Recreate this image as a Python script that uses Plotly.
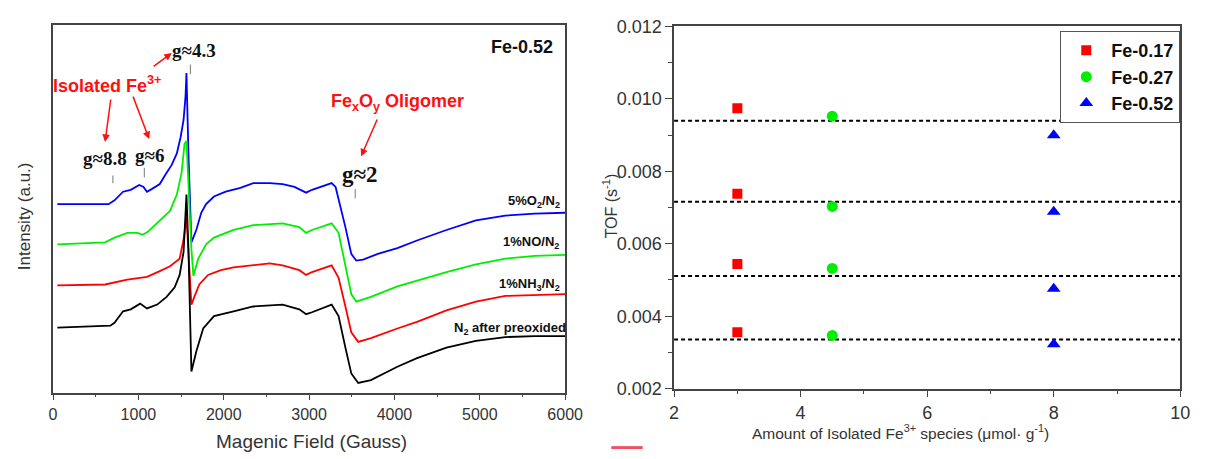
import plotly.graph_objects as go

W, H = 1213, 459

# ---------------- EPR spectra (left panel) ----------------
blue_field = [50, 360, 650, 720, 820, 910, 1010, 1060, 1100, 1160, 1250, 1310, 1390, 1450, 1494, 1529, 1552, 1563,
              1586, 1621, 1678, 1736, 1793, 1885, 2023, 2195, 2345, 2540, 2690, 2828, 2965, 3034, 3172, 3264, 3310,
              3368, 3425, 3494, 3552, 3632, 3805, 4034, 4264, 4609, 4954, 5299, 5644, 6000]
blue_int = [197, 197, 197, 201, 210, 212, 217, 215, 210, 213, 218, 227, 238, 250, 267, 285, 310, 334,
            250, 157, 170, 188, 197, 205, 210, 214, 219, 219, 218, 215, 209, 212, 216, 219, 215,
            195, 173, 145, 138, 139, 145, 151, 159, 170, 180, 185, 187, 188]

green_field = [50, 610, 720, 870, 990, 1050, 1110, 1220, 1370, 1450, 1506, 1540, 1563,
               1621, 1644, 1701, 1793, 1885, 2115, 2345, 2690, 2885, 2965, 3034, 3264, 3345,
               3425, 3494, 3552, 3724, 4034, 4264, 4609, 4954, 5299, 5644, 6000]
green_int = [155, 157, 162, 167, 167, 165, 168, 177, 190, 207, 230, 260, 263,
             150, 122, 140, 155, 162, 170, 175, 177, 173, 167, 170, 177, 167,
             133, 103, 95, 100, 111, 117, 126, 134, 140, 143, 144]

red_field = [50, 610, 870, 1100, 1250, 1370, 1483, 1529, 1563, 1598, 1621, 1655, 1713, 1816, 1966, 2115,
             2345, 2540, 2690, 2885, 2965, 3034, 3264, 3345, 3425, 3494, 3575, 3724, 4034, 4264, 4609,
             4954, 5299, 5644, 6000]
red_int = [112, 113, 118, 121, 127, 132, 140, 160, 183, 133, 92, 100, 113, 123, 128, 131,
           133, 135, 133, 128, 123, 126, 133, 120, 90, 63, 53, 57, 67, 74, 86,
           95, 101, 102, 103]

black_field = [50, 670, 720, 820, 910, 1020, 1100, 1220, 1330, 1425, 1483, 1529, 1563, 1586, 1621, 1678,
               1759, 1885, 2115, 2345, 2690, 2885, 2965, 3034, 3264, 3345, 3425, 3494, 3575, 3724, 4034,
               4264, 4609, 4954, 5299, 5644, 6000]
black_int = [68, 70, 73, 85, 87, 93, 88, 92, 100, 110, 123, 147, 207, 150, 22, 43,
             67, 80, 85, 90, 92, 87, 82, 84, 92, 80, 47, 20, 10, 13, 27,
             36, 47, 54, 58, 59, 59]

spectra = [
    (blue_field, blue_int, "#0000FF"),
    (green_field, green_int, "#00EE00"),
    (red_field, red_int, "#FF0000"),
    (black_field, black_int, "#000000"),
]

curve_labels = ["5%O<sub>2</sub>/N<sub>2</sub>", "1%NO/N<sub>2</sub>", "1%NH<sub>3</sub>/N<sub>2</sub>",
                "N<sub>2</sub> after preoxided"]

# ---------------- TOF data (right panel) ----------------
tof_series = ["Fe-0.17", "Fe-0.27", "Fe-0.52"]
tof_x = [3, 4.5, 8]
tof_fe017 = [0.00974, 0.00738, 0.00544, 0.00356]
tof_fe027 = [0.00952, 0.00703, 0.00532, 0.00347]
tof_fe052 = [0.00899, 0.00688, 0.00476, 0.00323]
ref_levels = [0.00939, 0.00716, 0.00511, 0.00336]

fig = go.Figure()

for f, i, c in spectra:
    fig.add_trace(go.Scatter(x=f, y=i, mode="lines", line=dict(color=c, width=1.8),
                             xaxis="x", yaxis="y", showlegend=False, hoverinfo="skip"))

for lv in ref_levels:
    fig.add_trace(go.Scatter(x=[2, 10], y=[lv, lv], mode="lines",
                             line=dict(color="black", width=2, dash="4px,3px"),
                             xaxis="x2", yaxis="y2", showlegend=False, hoverinfo="skip"))

markers = [("square", "#FF0000", 10, tof_fe017), ("circle", "#00EE00", 11, tof_fe027),
           ("triangle-up", "#0000FF", 12, tof_fe052)]
for k, (sym, col, sz, vals) in enumerate(markers):
    fig.add_trace(go.Scatter(x=[tof_x[k]] * len(vals), y=vals, mode="markers",
                             marker=dict(symbol=sym, color=col, size=sz),
                             name="<b>" + tof_series[k] + "</b>", xaxis="x2", yaxis="y2"))

axis_common = dict(showline=True, mirror=True, linecolor="#444", linewidth=1.5,
                   showgrid=False, zeroline=False)

fig.update_layout(
    width=W, height=H, margin=dict(l=0, r=0, t=0, b=0),
    paper_bgcolor="white", plot_bgcolor="white",
    font=dict(family="Liberation Sans, Arial, sans-serif", color="#222"),
    xaxis=dict(domain=[49 / W, 571 / W], range=[0, 6000], anchor="y", ticks="outside",
               tickvals=[0, 1000, 2000, 3000, 4000, 5000, 6000], ticklen=6, tickwidth=1.3, tickcolor="#444",
               minor=dict(dtick=500, ticklen=3, ticks="outside", tickcolor="#444"),
               tickfont=dict(size=16, color="#333"), **axis_common),
    yaxis=dict(domain=[1 - 400 / H, 1 - 16 / H], range=[0, 384], anchor="x",
               showticklabels=False, ticks="", **axis_common),
    xaxis2=dict(domain=[682 / W, 1198 / W], range=[2, 10], anchor="y2", ticks="outside",
                dtick=2, ticklen=7, tickwidth=1.3, tickcolor="#444",
                minor=dict(dtick=1, ticklen=4, ticks="outside", tickcolor="#444"),
                tickfont=dict(size=18, color="#333"), **axis_common),
    yaxis2=dict(domain=[1 - 396 / H, 1 - 17 / H], range=[0.002, 0.012], anchor="x2", ticks="outside",
                dtick=0.002, tickformat=".3f", ticklen=7, tickwidth=1.3, tickcolor="#444",
                minor=dict(dtick=0.001, ticklen=4, ticks="outside", tickcolor="#444"),
                tickfont=dict(size=18, color="#333"), **axis_common),
    legend=dict(x=1198 / W, xanchor="right", y=1 - 22 / H, yanchor="top",
                bordercolor="#555", borderwidth=1, bgcolor="white", itemwidth=40,
                font=dict(size=18, color="#111"), tracegroupgap=0),
)

ann = []
# axis titles
ann.append(dict(text="Magenic Field (Gauss)", x=312 / W, y=1 - 451 / H, xref="paper", yref="paper",
                xanchor="center", yanchor="middle", showarrow=False, font=dict(size=19, color="#333")))
ann.append(dict(text="Intensity (a.u.)", x=20 / W, y=1 - 216 / H, xref="paper", yref="paper",
                xanchor="center", yanchor="middle", showarrow=False, textangle=-90,
                font=dict(size=17, color="#333")))
ann.append(dict(text="TOF (s<sup>-1</sup>)", x=617 / W, y=1 - 205 / H, xref="paper", yref="paper",
                xanchor="center", yanchor="middle", showarrow=False, textangle=-90,
                font=dict(size=16, color="#333")))
ann.append(dict(text="Amount of Isolated Fe<sup>3+</sup> species (\u03bcmol\u00b7 g<sup>-1</sup>)",
                x=913 / W, y=1 - 441 / H, xref="paper", yref="paper", xanchor="center", yanchor="middle",
                showarrow=False, font=dict(size=15.5, color="#333")))

serif = "Liberation Serif, Times New Roman, serif"
for txt, fx, fy, sz in [("g\u22488.8", 610, 245, 19), ("g\u22486", 1126, 248, 19),
                        ("g\u22484.3", 1655, 358, 19), ("g\u22482", 3598, 228, 23)]:
    ann.append(dict(text="<b>" + txt + "</b>", x=fx, y=fy, xref="x", yref="y", showarrow=False,
                    font=dict(family=serif, size=sz, color="#111")))

ann.append(dict(text="<b>Isolated Fe<sup>3+</sup></b>", x=632, y=322, xref="x", yref="y", showarrow=False,
                font=dict(size=18, color="#FF1010")))
ann.append(dict(text="<b>Fe<sub>x</sub>O<sub>y</sub> Oligomer</b>", x=4034, y=303, xref="x", yref="y",
                showarrow=False, font=dict(size=18, color="#FF1010")))
ann.append(dict(text="<b>Fe-0.52</b>", x=5494, y=361, xref="x", yref="y", showarrow=False,
                font=dict(size=18, color="#111")))

for (hx, hy, tx, ty) in [(609, 262, 678, 308), (1126, 265, 931, 311), (1391, 355, 1161, 340),
                         (3609, 247, 3805, 287)]:
    ann.append(dict(x=hx, y=hy, ax=tx, ay=ty, xref="x", yref="y", axref="x", ayref="y", text="",
                    showarrow=True, arrowhead=2, arrowsize=1, arrowwidth=1.5, arrowcolor="#FF1010"))

for lab, ly, rx in zip(curve_labels, [200, 243, 287, 333], [568, 567, 568, 574]):
    ann.append(dict(text="<b>" + lab + "</b>", x=rx / W, y=1 - ly / H, xref="paper", yref="paper",
                    xanchor="right", yanchor="middle", showarrow=False, font=dict(size=13, color="#111")))

fig.update_layout(annotations=ann)

shapes = []
for fx, y0, y1 in [(701, 219, 227), (1069, 225, 235), (1609, 333, 343), (3540, 203, 213)]:
    shapes.append(dict(type="line", x0=fx, x1=fx, y0=y0, y1=y1, xref="x", yref="y",
                       line=dict(color="#777", width=1)))
shapes.append(dict(type="rect", x0=618 / W, x1=650 / W, y0=0, y1=3 / H, xref="paper", yref="paper",
                   line=dict(width=0), fillcolor="#F05060"))
fig.update_layout(shapes=shapes)

fig.write_html("out.html")
